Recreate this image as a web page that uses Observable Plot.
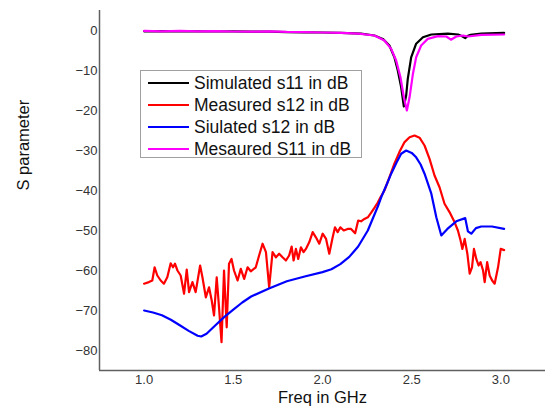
<!DOCTYPE html>
<html>
<head>
<meta charset="utf-8">
<script src="https://cdn.jsdelivr.net/npm/d3@7"></script>
<script src="https://cdn.jsdelivr.net/npm/@observablehq/plot@0.6"></script>
<style>
  body { margin: 0; background: #fff; }
  #wrap { position: relative; width: 549px; height: 412px; font-family: "Liberation Sans", Arial, sans-serif; }
  #legend { position: absolute; left: 140px; top: 70px; width: 222px; height: 88px; box-sizing: border-box;
    border: 1px solid #a0a0a0; background: #fff; }
  .item { position: absolute; left: 7px; height: 20px; display: flex; align-items: center; font-size: 17.5px; color: #111; white-space: nowrap; }
  .swatch { width: 41px; height: 2.5px; margin-right: 5px; }
</style>
</head>
<body>
<div id="wrap"></div>
<script>
// ---- data ----
const seriesNames = ["Simulated s11 in dB", "Measured s12 in dB", "Siulated s12 in dB", "Mesaured S11 in dB"];
const seriesColors = ["#000000", "#ff0000", "#0000ff", "#ff00ff"];

const simS11Freq = [1.0, 1.1, 1.2, 1.3, 1.4, 1.5, 1.6, 1.7, 1.8, 1.9, 2.0, 2.104, 2.216, 2.291, 2.338, 2.375, 2.403, 2.422, 2.441, 2.456, 2.469, 2.478, 2.497, 2.525, 2.563, 2.61, 2.703, 2.76, 2.78, 2.8, 2.815, 2.83, 2.89, 3.018];
const simS11Val  = [-0.2, -0.15, -0.2, -0.2, -0.25, -0.2, -0.3, -0.3, -0.4, -0.45, -0.5, -0.6, -0.8, -1.25, -2.1, -3.75, -6.7, -10, -14.2, -19, -16.25, -12.1, -6.7, -3.3, -1.7, -1.0, -0.8, -1.0, -1.4, -1.9, -1.3, -1.1, -0.8, -0.6];

const measS11Freq = [1.0, 1.1, 1.2, 1.3, 1.4, 1.5, 1.6, 1.7, 1.8, 1.9, 2.0, 2.104, 2.2, 2.291, 2.347, 2.385, 2.413, 2.437, 2.456, 2.473, 2.488, 2.507, 2.525, 2.553, 2.59, 2.647, 2.694, 2.72, 2.75, 2.788, 2.816, 2.89, 3.018];
const measS11Val  = [-0.1, -0.2, -0.1, -0.2, -0.15, -0.25, -0.3, -0.2, -0.35, -0.4, -0.5, -0.6, -0.8, -1.25, -2.5, -4.6, -7.5, -11.7, -16.7, -20, -16.7, -10.8, -6.7, -3.75, -2.1, -1.4, -1.5, -2.3, -1.5, -1.25, -1.5, -1.1, -1.0];

const measS12Freq = [1.0, 1.027, 1.046, 1.059, 1.074, 1.093, 1.111, 1.13, 1.149, 1.162, 1.173, 1.187, 1.205, 1.224, 1.239, 1.252, 1.271, 1.289, 1.314, 1.327, 1.346, 1.364, 1.379, 1.392, 1.407, 1.42, 1.434, 1.448, 1.463, 1.476, 1.49, 1.504, 1.524, 1.542, 1.561, 1.58, 1.598, 1.626, 1.645, 1.664, 1.683, 1.701, 1.72, 1.739, 1.757, 1.776, 1.795, 1.813, 1.827, 1.838, 1.851, 1.864, 1.879, 1.894, 1.907, 1.926, 1.945, 1.963, 1.982, 2.001, 2.02, 2.038, 2.057, 2.07, 2.085, 2.1, 2.119, 2.141, 2.16, 2.183, 2.2, 2.216, 2.235, 2.254, 2.272, 2.29, 2.31, 2.325, 2.347, 2.375, 2.403, 2.431, 2.46, 2.488, 2.516, 2.544, 2.572, 2.6, 2.628, 2.656, 2.684, 2.712, 2.74, 2.759, 2.774, 2.784, 2.797, 2.812, 2.825, 2.838, 2.849, 2.862, 2.875, 2.886, 2.9, 2.909, 2.923, 2.937, 2.951, 2.965, 2.984, 2.999, 3.018];
const measS12Val  = [-63.3, -62.9, -62.5, -59.2, -61.25, -62.5, -63.3, -61.7, -58.2, -59.2, -58.3, -60, -61.25, -65.8, -59.8, -65.4, -62.9, -65.4, -58.75, -61.7, -66.7, -64.2, -67.5, -71.25, -61.7, -69.2, -77.9, -60, -74.2, -58.3, -57.1, -60, -62.5, -59.6, -62.1, -59.2, -60.2, -59.2, -56.2, -53.3, -55.4, -64.2, -55.4, -56.7, -55.8, -56.7, -57.5, -56.25, -54, -57.5, -54.6, -57.1, -54.2, -55.4, -54.6, -52.9, -50.4, -51.7, -53.3, -50.8, -52.1, -55.8, -51.7, -49.2, -50.4, -49.2, -50, -49.6, -49.6, -50.7, -47.5, -47.7, -47.1, -46.7, -45.6, -44.4, -43.0, -41.7, -40, -36.7, -33.3, -30.4, -27.9, -26.7, -26.25, -26.8, -28.75, -32.1, -36.25, -39.2, -43.3, -45.4, -47.9, -50, -52.5, -54.6, -52.1, -55.8, -60.8, -59.2, -54.6, -57.1, -58.75, -57.9, -60, -62.9, -57.9, -61.25, -62.5, -63.3, -59.2, -54.6, -54.9];

const simS12Freq = [1.0, 1.05, 1.1, 1.15, 1.2, 1.25, 1.3, 1.32, 1.35, 1.4, 1.45, 1.5, 1.55, 1.6, 1.7, 1.8, 1.9, 2.0, 2.05, 2.1, 2.15, 2.2, 2.254, 2.31, 2.329, 2.36, 2.385, 2.415, 2.441, 2.469, 2.5, 2.525, 2.55, 2.572, 2.61, 2.638, 2.666, 2.7, 2.75, 2.8, 2.815, 2.834, 2.86, 2.89, 2.95, 3.018];
const simS12Val  = [-70, -70.5, -71.2, -72.3, -73.7, -75.1, -76.3, -76.5, -75.8, -73.7, -71.6, -69.8, -68.0, -66.5, -64.5, -62.7, -61.5, -60.4, -59.7, -58.4, -56.6, -54.0, -50, -44, -41.7, -38.5, -35.8, -33, -30.8, -30, -30.6, -31.7, -33.5, -35.8, -40.8, -46.7, -51.25, -49.6, -47.7, -46.9, -50.2, -50.8, -49.4, -49, -49.0, -49.6];

const xTicks = [1.0, 1.5, 2.0, 2.5, 3.0];
const yTicks = [0, -10, -20, -30, -40, -50, -60, -70, -80];
const xDomain = [0.75, 3.25];
const yDomain = [-85, 5];

// ---- build ----
function rows(freq, val, name) { return freq.map((f, i) => ({freq: f, val: val[i], series: name})); }
const data = [
  ...rows(measS12Freq, measS12Val, seriesNames[1]),
  ...rows(simS12Freq, simS12Val, seriesNames[2]),
  ...rows(simS11Freq, simS11Val, seriesNames[0]),
  ...rows(measS11Freq, measS11Val, seriesNames[3])
];

const font = '"Liberation Sans", Arial, sans-serif';
const chart = Plot.plot({
  width: 549, height: 412,
  marginLeft: 99, marginTop: 10, marginRight: 4, marginBottom: 42,
  style: {fontFamily: font, color: "#333", background: "#fff"},
  x: {domain: xDomain},
  y: {domain: yDomain},
  color: {domain: seriesNames, range: seriesColors},
  marks: [
    Plot.axisX({ticks: xTicks, tickSize: 0, tickPadding: 4, tickFormat: d3.format(".1f"), label: null, fontSize: 13}),
    Plot.axisY({ticks: yTicks, tickSize: 0, tickPadding: 2, label: null, fontSize: 13}),
    Plot.ruleX([xDomain[0]], {stroke: "#606060", strokeWidth: 1.5}),
    Plot.ruleY([yDomain[0]], {stroke: "#606060", strokeWidth: 1.5}),
    Plot.line(data, {x: "freq", y: "val", z: "series", stroke: "series", strokeWidth: 2.2, curve: "linear"}),
    Plot.text(["Freq in GHz"], {frameAnchor: "bottom", dy: 32, fontSize: 16.5, fill: "#111"}),
    Plot.text(["S parameter"], {frameAnchor: "left", dx: -76, rotate: -90, fontSize: 16.5, fill: "#111"})
  ]
});

const wrap = document.getElementById("wrap");
wrap.appendChild(chart);

const legend = document.createElement("div");
legend.id = "legend";
const tops = [2, 24, 46, 68];
seriesNames.forEach((n, i) => {
  const it = document.createElement("div");
  it.className = "item";
  it.style.top = tops[i] + "px";
  const sw = document.createElement("span");
  sw.className = "swatch";
  sw.style.background = seriesColors[i];
  const tx = document.createElement("span");
  tx.textContent = n;
  it.appendChild(sw); it.appendChild(tx);
  legend.appendChild(it);
});
wrap.appendChild(legend);
</script>
</body>
</html>
